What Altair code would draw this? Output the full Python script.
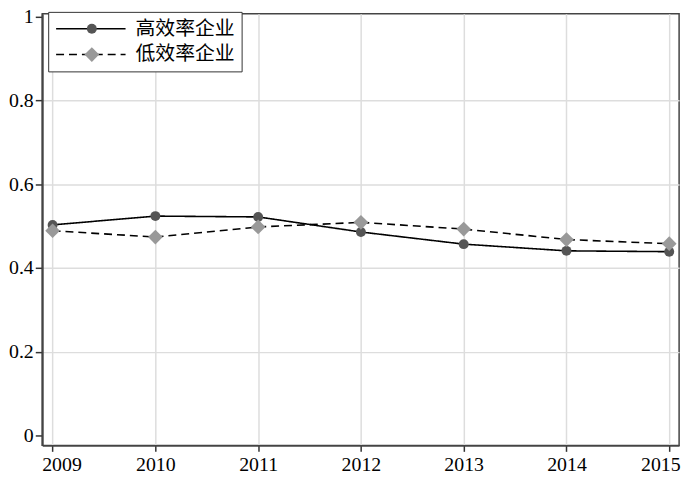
import altair as alt
import pandas as pd

years = [2009, 2010, 2011, 2012, 2013, 2014, 2015]
high_eff = [0.503, 0.524, 0.522, 0.486, 0.457, 0.441, 0.439]
low_eff = [0.489, 0.474, 0.498, 0.509, 0.493, 0.468, 0.458]
series_names = ["高效率企业", "低效率企业"]
y_ticks = [0, 0.2, 0.4, 0.6, 0.8, 1]

rows = []
for yr, v in zip(years, high_eff):
    rows.append({"年份": yr, "值": v, "组": series_names[0]})
for yr, v in zip(years, low_eff):
    rows.append({"年份": yr, "值": v, "组": series_names[1]})
df = pd.DataFrame(rows)
df["组2"] = df["组"]

FONT = "Liberation Serif, Noto Sans CJK SC"

x = alt.X(
    "年份:Q",
    scale=alt.Scale(domain=[2008.899, 2015.096], nice=False, zero=False),
    axis=alt.Axis(
        values=years, format="d", title=None,
        grid=True, gridColor="#dddddd", gridWidth=1.5,
        tickSize=6, tickColor="#333333", tickWidth=1.5,
        labelPadding=3, labelFontSize=20, labelFont=FONT, labelColor="black",
        labelFlush=15, labelFlushOffset=11,
        domain=True, domainColor="#444444", domainWidth=2,
    ),
)
y = alt.Y(
    "值:Q",
    scale=alt.Scale(domain=[-0.0237, 1.0071], nice=False, zero=False),
    axis=alt.Axis(
        values=y_ticks, format=".1~f", title=None,
        grid=True, gridColor="#dddddd", gridWidth=1.5,
        gridOpacity={"condition": {"test": "datum.value == 0 || datum.value == 1", "value": 0}, "value": 1},
        tickSize=7, tickColor="#333333", tickWidth=1.5,
        labelPadding=2, labelFontSize=20, labelFont=FONT, labelColor="black",
        domain=True, domainColor="#444444", domainWidth=2,
    ),
)

lines = alt.Chart(df).mark_line(color="black", strokeWidth=1.6).encode(
    x=x, y=y,
    strokeDash=alt.StrokeDash(
        "组:N",
        sort=series_names,
        scale=alt.Scale(range=[[1, 0], [8, 5]]),
        legend=alt.Legend(
            title=None, orient="none", legendX=6, legendY=-2,
            symbolType="stroke", symbolSize=4900, symbolStrokeColor="black",
            symbolStrokeWidth=1.6, labelFont=FONT, labelFontSize=20,
            labelColor="black", labelOffset=9, padding=7, rowPadding=6,
            clipHeight=20,
            strokeColor="#333333", fillColor="white",
        ),
    ),
)

pt_legend = alt.Legend(
    title=None, orient="none", legendX=33, legendY=-2,
    labelFont=FONT, labelFontSize=20, labelExpr="''",
    labelOffset=9, padding=7, rowPadding=6, symbolStrokeWidth=0,
    clipHeight=20,
)

points = alt.Chart(df).mark_point(filled=True, opacity=1, strokeWidth=0).encode(
    x=x, y=y,
    shape=alt.Shape("组2:N", scale=alt.Scale(domain=series_names, range=["circle", "diamond"]), legend=pt_legend),
    color=alt.Color("组2:N", scale=alt.Scale(domain=series_names, range=["#555555", "#999999"]), legend=pt_legend),
    size=alt.Size("组2:N", scale=alt.Scale(domain=series_names, range=[100, 220]), legend=pt_legend),
)

chart = alt.layer(lines, points).properties(
    width=642, height=435,
    autosize=alt.AutoSizeParams(type="none"),
    padding={"left": 34.5, "top": 4, "right": 13, "bottom": 33},
    background="white",
).configure_view(stroke="#444444", strokeWidth=1.5)

chart.save("out.html", embed_options={"renderer": "svg", "actions": False})
